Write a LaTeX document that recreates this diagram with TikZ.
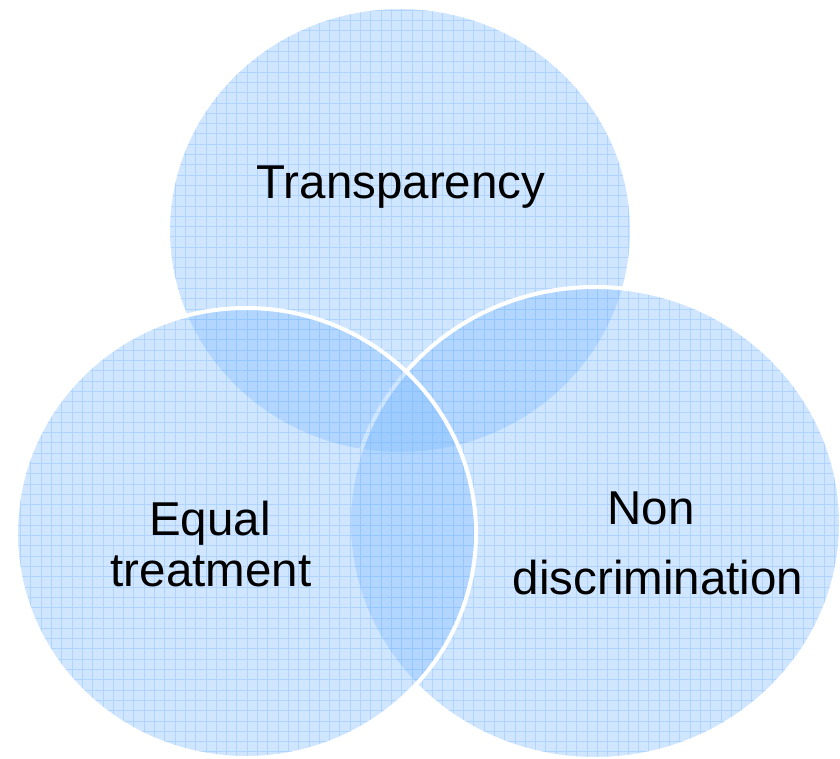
\documentclass[tikz,border=0pt]{standalone}
\usepackage{fontspec}
\setmainfont{Liberation Sans}
\definecolor{circfill}{RGB}{125,186,255}
\definecolor{gridblue}{RGB}{140,195,255}
\tikzset{
  venn/.style={fill=circfill, fill opacity=0.36},
  gridlines/.style={draw=gridblue, line width=0.9pt, opacity=0.5},
  rim/.style={draw=white, line width=4pt},
  venntext/.style={font=\fontsize{47.5}{52}\selectfont, anchor=base, inner sep=0pt, text=black},
}
\begin{document}
\begin{tikzpicture}[x=1pt,y=-1pt]
  \useasboundingbox (0,0) rectangle (840,759);

  % Transparency (drawn first, lies underneath)
  \begin{scope}
    \path[venn] (400,230.5) ellipse [x radius=232, y radius=223.5];
    \clip (400,230.5) ellipse [x radius=232, y radius=223.5];
    \draw[gridlines] (166,456) grid[step=10.3pt] (634,5);
  \end{scope}
  \path[rim] (400,230.5) ellipse [x radius=232, y radius=223.5];

  % Non discrimination
  \begin{scope}
    \path[venn] (595,523) ellipse [x radius=246, y radius=236];
    \clip (595,523) ellipse [x radius=246, y radius=236];
    \draw[gridlines] (347,761) grid[step=10.3pt] (843,285);
  \end{scope}
  \path[rim] (595,523) ellipse [x radius=246, y radius=236];

  % Equal treatment (drawn last, on top)
  \begin{scope}
    \path[venn] (246,533) ellipse [x radius=230, y radius=225];
    \clip (246,533) ellipse [x radius=230, y radius=225];
    \draw[gridlines] (14,760) grid[step=10.3pt] (478,306);
  \end{scope}
  \path[rim] (246,533) ellipse [x radius=230, y radius=225];

  \node[venntext] (transp) at (401,199) {Transparency};
  \node[venntext] (equal)  at (210,535) {Equal};
  \node[venntext] (treat)  at (211,586) {treatment};
  \node[venntext] (non)    at (651,524) {Non};
  \node[venntext] (discr)  at (658,594) {discrimination};
\end{tikzpicture}
\end{document}
